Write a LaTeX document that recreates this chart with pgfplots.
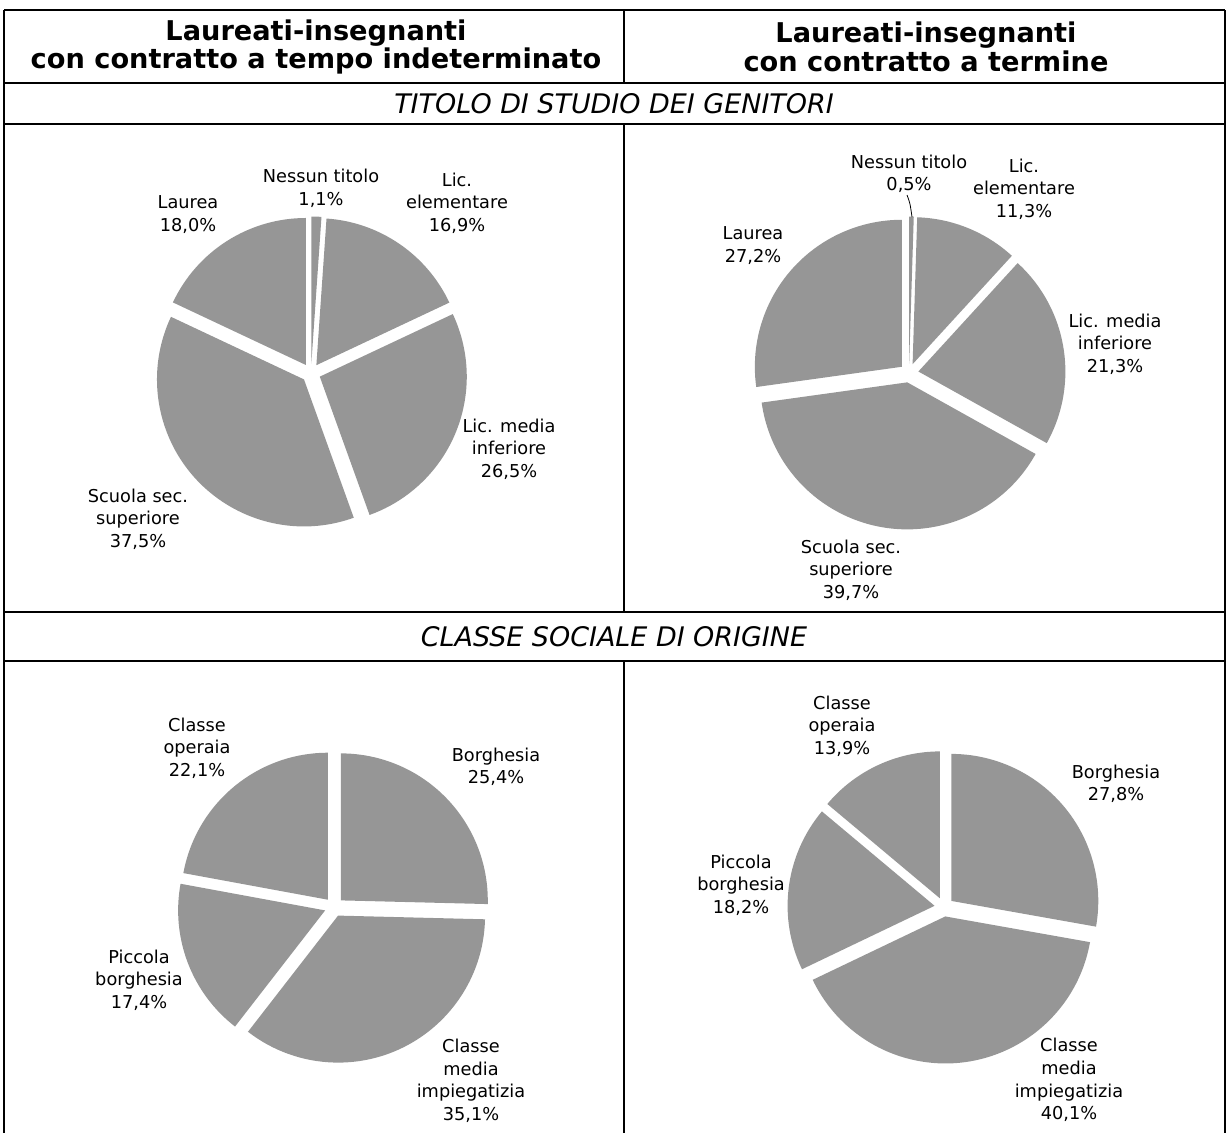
\documentclass[border=0pt]{standalone}
\usepackage{pgfplots}
\pgfplotsset{compat=1.18}
\usepackage{fontspec}
\setmainfont{DejaVu Sans}
\usetikzlibrary{calc}
\definecolor{piegray}{RGB}{150,150,150}

% 1 px of the reference = 0.75pt
\def\pieR{110.25pt}   % radius 147 px
\def\pieex{7.125pt}   % explosion 9.5 px

% slices clockwise from 12 o'clock, values in percent
\newcommand{\piechart}[1]{%
  \pgfplotsextra{%
    \xdef\pieang{90}%
    \foreach \v in {#1}{%
      \pgfmathsetmacro\pieend{\pieang-3.6*\v}%
      \pgfmathsetmacro\piemid{(\pieang+\pieend)/2}%
      \fill[piegray] ($(axis cs:0,0)+(\piemid:\pieex)$) -- ++(\pieang:\pieR)
        arc[start angle=\pieang,end angle=\pieend,radius=\pieR] -- cycle;
      \xdef\pieang{\pieend}%
    }%
  }%
}

\pgfplotsset{pie/.style={hide axis, scale only axis, width=220.5pt, height=220.5pt,
  xmin=-1, xmax=1, ymin=-1, ymax=1, clip=false, anchor=center}}

\newcommand{\lab}[3]{\node[align=center,inner sep=0pt,
  font=\fontsize{13.3}{16.9}\selectfont] at (#1,-#2) {#3};}

\begin{document}
\begin{tikzpicture}[x=0.75pt,y=0.75pt]
\useasboundingbox (0,0) rectangle (1226,-1133);

% table rules
\begin{scope}[line width=1.5pt]
\draw (4,-10) -- (1225,-10);
\draw (4,-83) -- (1225,-83);
\draw (4,-124) -- (1225,-124);
\draw (4,-612) -- (1225,-612);
\draw (4,-661) -- (1225,-661);
\draw (4,-10) -- (4,-1133);
\draw (1225,-10) -- (1225,-1133);
\draw (624,-10) -- (624,-83);
\draw (624,-124) -- (624,-612);
\draw (624,-661) -- (624,-1133);
\end{scope}

% headings
\begin{scope}[every node/.style={align=center,inner sep=0pt,
  font=\fontsize{20.4}{21.6}\selectfont\bfseries}]
\node at (316,-47) {Laureati-insegnanti\\con contratto a tempo indeterminato};
\node at (926,-47) {Laureati-insegnanti\\con contratto a termine};
\end{scope}
\node[inner sep=0pt,font=\fontsize{20.2}{21}\selectfont\itshape] at (614,-104) {TITOLO DI STUDIO DEI GENITORI};
\node[inner sep=0pt,font=\fontsize{20.2}{21}\selectfont\itshape] at (614,-637) {CLASSE SOCIALE DI ORIGINE};

% pie centres
\coordinate (c1) at (311,-373);
\coordinate (c2) at (909,-373);
\coordinate (c3) at (334,-907);
\coordinate (c4) at (944,-907);

% pies
\begin{axis}[pie, at={(c1)}]
\piechart{1.1,16.9,26.5,37.5,18.0}
\end{axis}
\begin{axis}[pie, at={(c2)}]
\piechart{0.5,11.3,21.3,39.7,27.2}
\end{axis}
\begin{axis}[pie, at={(c3)}]
\piechart{25.4,35.1,17.4,22.1}
\end{axis}
\begin{axis}[pie, at={(c4)}]
\piechart{27.8,40.1,18.2,13.9}
\end{axis}

% data labels
\lab{321}{188.5}{Nessun titolo\\1,1\%}
\lab{457}{203}{Lic.\\elementare\\16,9\%}
\lab{188}{214.5}{Laurea\\18,0\%}
\lab{509}{449}{Lic. media\\inferiore\\26,5\%}
\lab{138}{519}{Scuola sec.\\superiore\\37,5\%}

\lab{909}{174}{Nessun titolo\\0,5\%}
\draw[line width=0.6pt] (907,-195) .. controls (910,-203) .. (912,-217);
\lab{1024}{189}{Lic.\\elementare\\11,3\%}
\lab{753}{245.5}{Laurea\\27,2\%}
\lab{1115}{344}{Lic. media\\inferiore\\21,3\%}
\lab{851}{570}{Scuola sec.\\superiore\\39,7\%}

\lab{197}{748}{Classe\\operaia\\22,1\%}
\lab{496}{767}{Borghesia\\25,4\%}
\lab{139}{980}{Piccola\\borghesia\\17,4\%}
\lab{471}{1081}{Classe\\media\\impiegatizia\\35,1\%}

\lab{842}{726}{Classe\\operaia\\13,9\%}
\lab{1116}{784}{Borghesia\\27,8\%}
\lab{741}{885}{Piccola\\borghesia\\18,2\%}
\lab{1069}{1080}{Classe\\media\\impiegatizia\\40,1\%}
\end{tikzpicture}
\end{document}
